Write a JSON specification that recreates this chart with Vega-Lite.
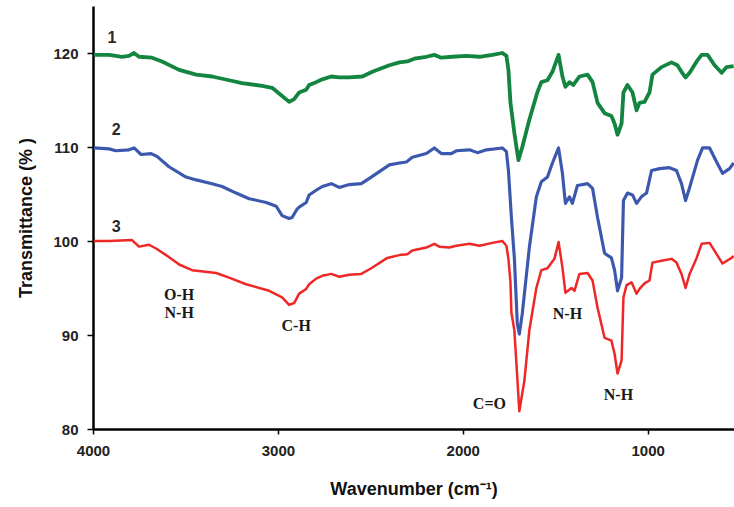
{
  "$schema": "https://vega.github.io/schema/vega-lite/v6.json",
  "width": 641,
  "height": 423,
  "autosize": {"type": "none"},
  "padding": {"left": 93, "top": 6, "right": 0, "bottom": 78},
  "background": "white",
  "config": {"view": {"stroke": null}, "font": "Liberation Sans"},
  "datasets": {
    "spectra": [
      {"s":"1","x":3995,"y":119.8},{"s":"1","x":3913,"y":119.8},{"s":"1","x":3843,"y":119.6},{"s":"1","x":3805,"y":119.7},{"s":"1","x":3778,"y":120.0},{"s":"1","x":3751,"y":119.6},{"s":"1","x":3681,"y":119.5},{"s":"1","x":3627,"y":119.1},{"s":"1","x":3534,"y":118.2},{"s":"1","x":3442,"y":117.7},{"s":"1","x":3356,"y":117.5},{"s":"1","x":3264,"y":117.1},{"s":"1","x":3194,"y":116.8},{"s":"1","x":3085,"y":116.5},{"s":"1","x":3031,"y":116.3},{"s":"1","x":2982,"y":115.5},{"s":"1","x":2939,"y":114.8},{"s":"1","x":2912,"y":115.1},{"s":"1","x":2885,"y":115.8},{"s":"1","x":2847,"y":116.1},{"s":"1","x":2831,"y":116.6},{"s":"1","x":2793,"y":116.9},{"s":"1","x":2760,"y":117.2},{"s":"1","x":2711,"y":117.5},{"s":"1","x":2668,"y":117.4},{"s":"1","x":2614,"y":117.4},{"s":"1","x":2543,"y":117.5},{"s":"1","x":2489,"y":118.0},{"s":"1","x":2397,"y":118.7},{"s":"1","x":2343,"y":119.0},{"s":"1","x":2300,"y":119.1},{"s":"1","x":2262,"y":119.4},{"s":"1","x":2197,"y":119.6},{"s":"1","x":2154,"y":119.8},{"s":"1","x":2116,"y":119.5},{"s":"1","x":2056,"y":119.6},{"s":"1","x":1981,"y":119.7},{"s":"1","x":1910,"y":119.6},{"s":"1","x":1840,"y":119.8},{"s":"1","x":1786,"y":120.0},{"s":"1","x":1764,"y":119.7},{"s":"1","x":1753,"y":118.2},{"s":"1","x":1742,"y":114.7},{"s":"1","x":1721,"y":111.5},{"s":"1","x":1699,"y":108.6},{"s":"1","x":1678,"y":110.0},{"s":"1","x":1640,"y":112.9},{"s":"1","x":1597,"y":115.8},{"s":"1","x":1575,"y":116.9},{"s":"1","x":1542,"y":117.1},{"s":"1","x":1515,"y":118.0},{"s":"1","x":1482,"y":119.8},{"s":"1","x":1461,"y":117.5},{"s":"1","x":1445,"y":116.4},{"s":"1","x":1423,"y":116.9},{"s":"1","x":1402,"y":116.6},{"s":"1","x":1369,"y":117.5},{"s":"1","x":1325,"y":117.7},{"s":"1","x":1298,"y":116.9},{"s":"1","x":1271,"y":114.7},{"s":"1","x":1233,"y":113.6},{"s":"1","x":1196,"y":113.3},{"s":"1","x":1179,"y":112.5},{"s":"1","x":1163,"y":111.3},{"s":"1","x":1141,"y":112.5},{"s":"1","x":1131,"y":115.8},{"s":"1","x":1109,"y":116.6},{"s":"1","x":1082,"y":115.8},{"s":"1","x":1060,"y":113.9},{"s":"1","x":1044,"y":114.7},{"s":"1","x":1017,"y":114.8},{"s":"1","x":990,"y":115.8},{"s":"1","x":974,"y":117.7},{"s":"1","x":925,"y":118.5},{"s":"1","x":871,"y":119.0},{"s":"1","x":839,"y":118.7},{"s":"1","x":817,"y":118.0},{"s":"1","x":795,"y":117.4},{"s":"1","x":773,"y":117.9},{"s":"1","x":735,"y":119.1},{"s":"1","x":708,"y":119.8},{"s":"1","x":676,"y":119.8},{"s":"1","x":638,"y":118.7},{"s":"1","x":600,"y":117.9},{"s":"1","x":573,"y":118.5},{"s":"1","x":535,"y":118.6},
      {"s":"2","x":3995,"y":109.9},{"s":"2","x":3913,"y":109.8},{"s":"2","x":3876,"y":109.6},{"s":"2","x":3805,"y":109.7},{"s":"2","x":3778,"y":109.9},{"s":"2","x":3740,"y":109.2},{"s":"2","x":3686,"y":109.3},{"s":"2","x":3654,"y":109.0},{"s":"2","x":3589,"y":107.9},{"s":"2","x":3497,"y":106.8},{"s":"2","x":3442,"y":106.5},{"s":"2","x":3356,"y":106.1},{"s":"2","x":3302,"y":105.8},{"s":"2","x":3226,"y":105.1},{"s":"2","x":3155,"y":104.5},{"s":"2","x":3063,"y":104.1},{"s":"2","x":3009,"y":103.7},{"s":"2","x":2977,"y":102.7},{"s":"2","x":2939,"y":102.4},{"s":"2","x":2923,"y":102.5},{"s":"2","x":2896,"y":103.4},{"s":"2","x":2885,"y":103.6},{"s":"2","x":2847,"y":104.1},{"s":"2","x":2831,"y":104.9},{"s":"2","x":2793,"y":105.4},{"s":"2","x":2760,"y":105.8},{"s":"2","x":2711,"y":106.1},{"s":"2","x":2668,"y":105.7},{"s":"2","x":2614,"y":106.0},{"s":"2","x":2549,"y":106.1},{"s":"2","x":2495,"y":106.8},{"s":"2","x":2397,"y":108.1},{"s":"2","x":2343,"y":108.3},{"s":"2","x":2305,"y":108.4},{"s":"2","x":2273,"y":108.9},{"s":"2","x":2197,"y":109.3},{"s":"2","x":2154,"y":109.9},{"s":"2","x":2116,"y":109.3},{"s":"2","x":2062,"y":109.3},{"s":"2","x":2035,"y":109.6},{"s":"2","x":1964,"y":109.7},{"s":"2","x":1921,"y":109.4},{"s":"2","x":1872,"y":109.7},{"s":"2","x":1786,"y":109.9},{"s":"2","x":1764,"y":109.5},{"s":"2","x":1753,"y":107.5},{"s":"2","x":1737,"y":102.5},{"s":"2","x":1721,"y":98.2},{"s":"2","x":1705,"y":91.2},{"s":"2","x":1694,"y":90.1},{"s":"2","x":1678,"y":92.3},{"s":"2","x":1640,"y":99.3},{"s":"2","x":1602,"y":104.7},{"s":"2","x":1575,"y":106.3},{"s":"2","x":1542,"y":106.8},{"s":"2","x":1515,"y":108.3},{"s":"2","x":1482,"y":109.9},{"s":"2","x":1461,"y":107.2},{"s":"2","x":1445,"y":104.0},{"s":"2","x":1423,"y":104.7},{"s":"2","x":1407,"y":104.0},{"s":"2","x":1380,"y":105.9},{"s":"2","x":1325,"y":106.1},{"s":"2","x":1298,"y":105.6},{"s":"2","x":1271,"y":102.5},{"s":"2","x":1233,"y":98.7},{"s":"2","x":1196,"y":98.2},{"s":"2","x":1179,"y":96.9},{"s":"2","x":1163,"y":94.7},{"s":"2","x":1141,"y":96.1},{"s":"2","x":1131,"y":104.3},{"s":"2","x":1109,"y":105.1},{"s":"2","x":1082,"y":104.9},{"s":"2","x":1060,"y":104.0},{"s":"2","x":1034,"y":104.7},{"s":"2","x":1006,"y":105.1},{"s":"2","x":979,"y":107.5},{"s":"2","x":936,"y":107.7},{"s":"2","x":882,"y":107.8},{"s":"2","x":844,"y":107.5},{"s":"2","x":817,"y":106.1},{"s":"2","x":795,"y":104.3},{"s":"2","x":773,"y":105.7},{"s":"2","x":730,"y":108.6},{"s":"2","x":703,"y":109.9},{"s":"2","x":665,"y":109.9},{"s":"2","x":627,"y":108.4},{"s":"2","x":595,"y":107.2},{"s":"2","x":557,"y":107.7},{"s":"2","x":535,"y":108.3},
      {"s":"3","x":3995,"y":100.0},{"s":"3","x":3913,"y":100.0},{"s":"3","x":3789,"y":100.1},{"s":"3","x":3751,"y":99.4},{"s":"3","x":3697,"y":99.6},{"s":"3","x":3659,"y":99.2},{"s":"3","x":3605,"y":98.5},{"s":"3","x":3534,"y":97.5},{"s":"3","x":3464,"y":96.9},{"s":"3","x":3334,"y":96.6},{"s":"3","x":3264,"y":96.1},{"s":"3","x":3172,"y":95.4},{"s":"3","x":3047,"y":94.7},{"s":"3","x":2977,"y":94.0},{"s":"3","x":2939,"y":93.2},{"s":"3","x":2912,"y":93.4},{"s":"3","x":2885,"y":94.4},{"s":"3","x":2847,"y":94.9},{"s":"3","x":2831,"y":95.4},{"s":"3","x":2793,"y":96.0},{"s":"3","x":2760,"y":96.3},{"s":"3","x":2711,"y":96.5},{"s":"3","x":2668,"y":96.2},{"s":"3","x":2614,"y":96.4},{"s":"3","x":2549,"y":96.5},{"s":"3","x":2495,"y":97.1},{"s":"3","x":2408,"y":98.2},{"s":"3","x":2343,"y":98.5},{"s":"3","x":2300,"y":98.6},{"s":"3","x":2273,"y":99.0},{"s":"3","x":2197,"y":99.3},{"s":"3","x":2154,"y":99.7},{"s":"3","x":2127,"y":99.4},{"s":"3","x":2073,"y":99.3},{"s":"3","x":2035,"y":99.5},{"s":"3","x":1964,"y":99.7},{"s":"3","x":1910,"y":99.5},{"s":"3","x":1840,"y":99.8},{"s":"3","x":1786,"y":100.0},{"s":"3","x":1764,"y":99.5},{"s":"3","x":1753,"y":98.1},{"s":"3","x":1742,"y":95.6},{"s":"3","x":1737,"y":92.4},{"s":"3","x":1721,"y":90.5},{"s":"3","x":1694,"y":81.9},{"s":"3","x":1667,"y":85.1},{"s":"3","x":1640,"y":90.5},{"s":"3","x":1602,"y":95.0},{"s":"3","x":1575,"y":96.9},{"s":"3","x":1542,"y":97.1},{"s":"3","x":1504,"y":98.1},{"s":"3","x":1482,"y":99.9},{"s":"3","x":1461,"y":97.2},{"s":"3","x":1445,"y":94.5},{"s":"3","x":1412,"y":95.0},{"s":"3","x":1396,"y":94.7},{"s":"3","x":1369,"y":96.5},{"s":"3","x":1325,"y":96.6},{"s":"3","x":1298,"y":95.8},{"s":"3","x":1271,"y":92.9},{"s":"3","x":1233,"y":89.7},{"s":"3","x":1196,"y":89.4},{"s":"3","x":1179,"y":88.0},{"s":"3","x":1163,"y":85.9},{"s":"3","x":1141,"y":87.3},{"s":"3","x":1131,"y":94.0},{"s":"3","x":1114,"y":95.3},{"s":"3","x":1087,"y":95.6},{"s":"3","x":1060,"y":94.4},{"s":"3","x":1044,"y":94.9},{"s":"3","x":1017,"y":95.5},{"s":"3","x":990,"y":95.8},{"s":"3","x":974,"y":97.7},{"s":"3","x":925,"y":97.9},{"s":"3","x":871,"y":98.1},{"s":"3","x":844,"y":97.7},{"s":"3","x":817,"y":96.5},{"s":"3","x":795,"y":95.0},{"s":"3","x":773,"y":96.5},{"s":"3","x":735,"y":98.2},{"s":"3","x":708,"y":99.7},{"s":"3","x":665,"y":99.8},{"s":"3","x":627,"y":98.6},{"s":"3","x":595,"y":97.6},{"s":"3","x":546,"y":98.2},{"s":"3","x":535,"y":98.4}
    ],
    "nums": [
      {"x":3897,"y":121.6,"t":"1"},
      {"x":3875,"y":111.8,"t":"2"},
      {"x":3875,"y":101.5,"t":"3"}
    ],
    "groups": [
      {"x":3534,"y":94.3,"t":"O-H"},
      {"x":3534,"y":92.3,"t":"N-H"},
      {"x":2901,"y":91.0,"t":"C-H"},
      {"x":1856,"y":82.7,"t":"C=O"},
      {"x":1434,"y":92.2,"t":"N-H"},
      {"x":1158,"y":83.6,"t":"N-H"}
    ]
  },
  "layer": [
    {
      "data": {"name": "spectra"},
      "mark": {"type": "line", "clip": true, "strokeJoin": "round"},
      "encoding": {
        "x": {
          "field": "x", "type": "quantitative",
          "scale": {"domain": [4000, 533], "nice": false, "zero": false},
          "axis": {
            "values": [4000, 3000, 2000, 1000], "format": "d", "grid": false,
            "domainColor": "black", "domainWidth": 2.5, "tickColor": "black", "tickWidth": 1.5, "tickSize": 5,
            "labelFont": "Liberation Sans", "labelFontWeight": "bold", "labelFontSize": 15, "labelColor": "#222",
            "labelPadding": 9, "labelFlush": false, "labelOverlap": false,
            "title": "Wavenumber (cm⁻¹)", "titleFont": "Liberation Sans", "titleFontSize": 18, "titleFontWeight": "bold", "titleColor": "#111", "titlePadding": 22
          }
        },
        "y": {
          "field": "y", "type": "quantitative",
          "scale": {"domain": [80, 125], "nice": false, "zero": false},
          "axis": {
            "values": [80, 90, 100, 110, 120], "grid": false,
            "domainColor": "black", "domainWidth": 2.5, "tickColor": "black", "tickWidth": 1.5, "tickSize": 6,
            "labelFont": "Liberation Sans", "labelFontWeight": "bold", "labelFontSize": 15, "labelColor": "#222",
            "labelPadding": 9, "labelFlush": false,
            "title": "Transmittance (% )", "titleFont": "Liberation Sans", "titleFontSize": 18, "titleFontWeight": "bold", "titleColor": "#111", "titlePadding": 17
          }
        },
        "color": {"field": "s", "type": "nominal", "scale": {"domain": ["1", "2", "3"], "range": ["#138540", "#3b58ae", "#ee2727"]}, "legend": null},
        "strokeWidth": {"field": "s", "type": "ordinal", "scale": {"domain": ["1", "2", "3"], "range": [3.8, 2.5, 2.5]}, "legend": null}
      }
    },
    {
      "mark": {"type": "rule", "color": "black", "strokeWidth": 2.5},
      "encoding": {"y": {"datum": 125}}
    },
    {
      "data": {"name": "nums"},
      "mark": {"type": "text", "font": "Liberation Sans", "fontWeight": "bold", "fontSize": 16, "color": "#2a2a2a"},
      "encoding": {
        "x": {"field": "x", "type": "quantitative"},
        "y": {"field": "y", "type": "quantitative"},
        "text": {"field": "t"}
      }
    },
    {
      "data": {"name": "groups"},
      "mark": {"type": "text", "font": "Liberation Serif", "fontWeight": "bold", "fontSize": 16, "color": "#1a1a1a"},
      "encoding": {
        "x": {"field": "x", "type": "quantitative"},
        "y": {"field": "y", "type": "quantitative"},
        "text": {"field": "t"}
      }
    }
  ]
}
